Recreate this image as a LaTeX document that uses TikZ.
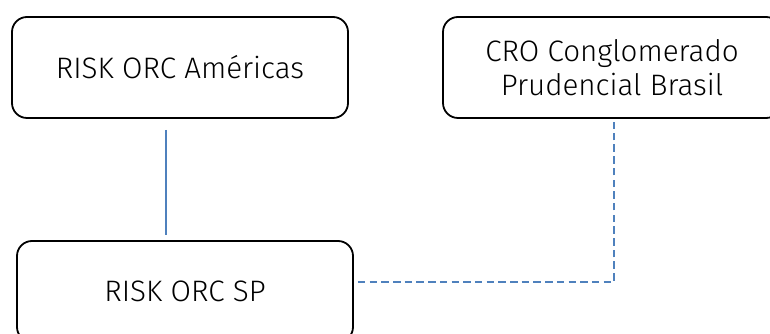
\documentclass[tikz,border=0pt]{standalone}
\usepackage{fontspec}
\setmainfont{Fira Sans}[UprightFont=* Light]
\usetikzlibrary{calc}
\definecolor{linkblue}{HTML}{4F81BD}
\tikzset{
  unit/.style={draw=black, line width=1.8pt, rounded corners=15pt,
    minimum width=336pt, minimum height=101pt, align=center,
    inner sep=0pt, font=\fontsize{29.6}{33.5}\selectfont},
  link/.style={draw=linkblue, line width=1.6pt},
  dotlink/.style={link, dash pattern=on 7.5pt off 4.2pt}
}
\begin{document}
\begin{tikzpicture}[x=1pt,y=1pt]
  \useasboundingbox (0,0) rectangle (770,334);
  \node[unit] (americas) at (180,266.5) {RISK ORC Américas};
  \node[unit, minimum width=338pt] (cro) at (612,266.5) {CRO Conglomerado\\Prudencial Brasil};
  \node[unit] (sp) at (185,42.5) {RISK ORC SP};
  % solid reporting line
  \draw[link] ([xshift=-14pt,yshift=-11pt]americas.south)
     -- ([xshift=-14pt,yshift=5pt]americas.south |- sp.north);
  % dotted reporting line
  \draw[dotlink] ([xshift=4pt,yshift=9.5pt]sp.east)
     -| ([xshift=2pt,yshift=-3pt]cro.south);
\end{tikzpicture}
\end{document}
